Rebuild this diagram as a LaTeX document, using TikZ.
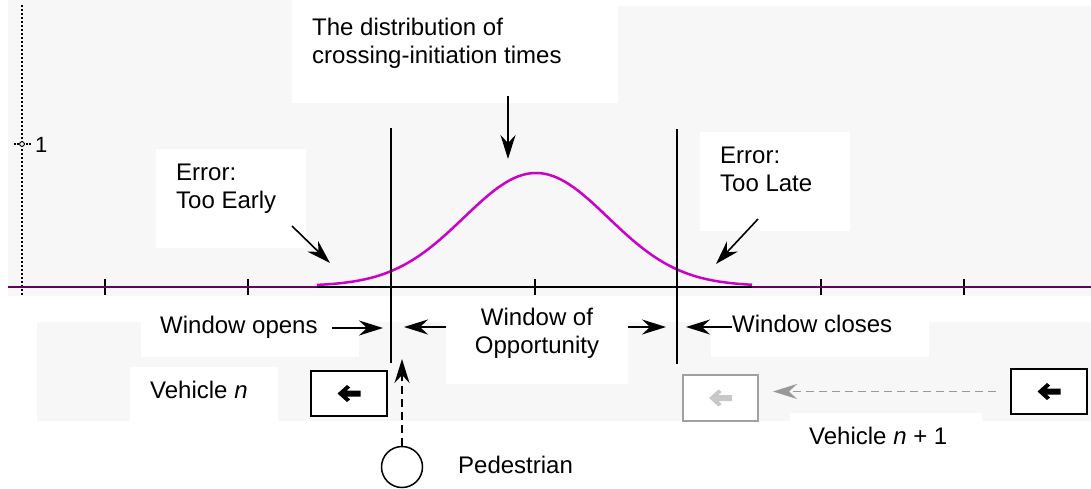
\documentclass[tikz,border=0pt]{standalone}
\usepackage{fontspec}
\setmainfont{Liberation Sans}
\usetikzlibrary{arrows.meta}
\definecolor{bg}{HTML}{F7F7F7}
\definecolor{curvecol}{HTML}{CC00CC}
\definecolor{fadeline}{HTML}{A0A0A0}
\definecolor{fadearrow}{HTML}{C8C8C8}
\definecolor{dashgray}{HTML}{999999}
\begin{document}
\begin{tikzpicture}[x=1pt,y=-1pt,
  lbl/.style={font=\fontsize{24}{27.5}\selectfont, inner sep=0pt, anchor=base west, align=left},
  ctr/.style={font=\fontsize{24}{27.5}\selectfont, inner sep=0pt, anchor=base, align=center},
  arr/.style={line width=1.6pt, -{Stealth[length=24pt,width=15pt,inset=8pt]}},
  whitebox/.style={fill=white, draw=none},
  vbox/.style={draw, line width=2pt, fill=white, minimum width=76pt, minimum height=45pt, inner sep=0pt},
  harrow/.pic={\fill (-11.5,0) -- (-2,-8.5) -- (1.2,-6) -- (-2.2,-3) -- (11.5,-3) -- (11.5,3) -- (-2.2,3) -- (1.2,6) -- (-2,8.5) -- cycle;}
]
\useasboundingbox (0,0) rectangle (1091,488);
% backgrounds
\fill[bg] (8,0) rectangle (1091,296);
\fill[white] (618,0) rectangle (1091,6);
\fill[bg] (37,322) rectangle (1091,421);
% white label boxes
\fill[whitebox] (292,0) rectangle (618,103);
\fill[whitebox] (156,149) rectangle (306,248);
\fill[whitebox] (700,132) rectangle (850,231);
\fill[whitebox] (141,322) rectangle (359,357);
\fill[whitebox] (130,367) rectangle (278,421);
\fill[whitebox] (446,322) rectangle (628,384);
\fill[whitebox] (711,322) rectangle (929,357);
\fill[whitebox] (790,413) rectangle (982,421);

% axes
\draw[line width=2.6pt, dash pattern=on 2pt off 2pt] (22,5) -- (22,296);
\draw[line width=1.4pt, dash pattern=on 1.5pt off 1.5pt] (14,144) -- (31,144);
\draw[line width=0.9pt, fill=bg] (22,144) circle (2.4);
\node[font=\fontsize{22}{24}\selectfont, inner sep=0pt, anchor=base west] (one) at (35,152) {1};

\draw[line width=2pt] (8,287) -- (1091,287);
\foreach \tx in {105,248,391,535,677,821,964}
  \draw[line width=2pt] (\tx,279) -- (\tx,295);
\draw[curvecol, opacity=0.5, line width=2pt] (8,287) -- (317,287);
\draw[curvecol, opacity=0.5, line width=2pt] (752,287) -- (1091,287);
\draw[curvecol, line width=2.5pt] plot[domain=317:752, samples=160] (\x, {286 - 113*exp(-0.5*((\x-536)/72)^2)});

% window lines
\draw[line width=1.8pt] (391,128) -- (391,363);
\draw[line width=1.8pt] (677,129) -- (677,364);

% labels (base anchor = baseline of last line)
\node[lbl] (title) at (312,63) {The distribution of\\crossing-initiation times};
\node[lbl] (early) at (176,208) {Error:\\Too Early};
\node[lbl] (late) at (720,191) {Error:\\Too Late};
\node[lbl] (wopen) at (160,333) {Window opens};
\node[ctr] (woo) at (537,353) {Window of\\Opportunity};
\node[lbl] (wclose) at (732,332) {Window closes};
\node[lbl] (vehn) at (150,398) {Vehicle \textit{n}};
\node[lbl] (vehn1) at (809,444) {Vehicle \textit{n} + 1};
\node[lbl] (pedl) at (458,473) {Pedestrian};

% arrows
\coordinate (d1) at (508,96); \coordinate (d2) at (508,159);
\draw[arr] (d1) -- (d2);
\coordinate (e1) at (292,226); \coordinate (e2) at (330,263);
\draw[arr] (e1) -- (e2);
\coordinate (l1) at (758,219); \coordinate (l2) at (716,264);
\draw[arr] (l1) -- (l2);
\coordinate (o1) at (332,328); \coordinate (o2) at (383,328);
\draw[arr] (o1) -- (o2);
\coordinate (w1) at (446,327); \coordinate (w2) at (404,327);
\draw[arr] (w1) -- (w2);
\coordinate (w3) at (628,327); \coordinate (w4) at (666,327);
\draw[arr] (w3) -- (w4);
\coordinate (c1) at (732,327); \coordinate (c2) at (686,327);
\draw[arr] (c1) -- (c2);

% vehicles
\node[vbox] (vn) at (349,393.5) {};
\pic[color=black] at (vn.center) {harrow};
\node[vbox, draw=fadeline, minimum width=75pt, minimum height=46pt] (faded) at (720.5,398) {};
\pic[color=fadearrow] at (faded.center) {harrow};
\node[vbox] (vn1) at (1049,391.5) {};
\pic[color=black] at (vn1.center) {harrow};
\draw[dashgray, line width=1.6pt, dash pattern=on 8pt off 5pt, -{Stealth[length=24pt,width=15pt,inset=8pt]}]
  ([xshift=-14pt]vn1.west) -- ([xshift=14pt]faded.east |- vn1.west);

% pedestrian
\node[circle, draw, line width=1.5pt, minimum size=41pt, inner sep=0pt] (ped) at (402,467) {};
\coordinate (pt) at (402,359);
\draw[line width=1.6pt, dash pattern=on 8pt off 5pt, -{Stealth[length=24pt,width=15pt,inset=8pt]}] (ped.north) -- (pt);
\end{tikzpicture}
\end{document}
